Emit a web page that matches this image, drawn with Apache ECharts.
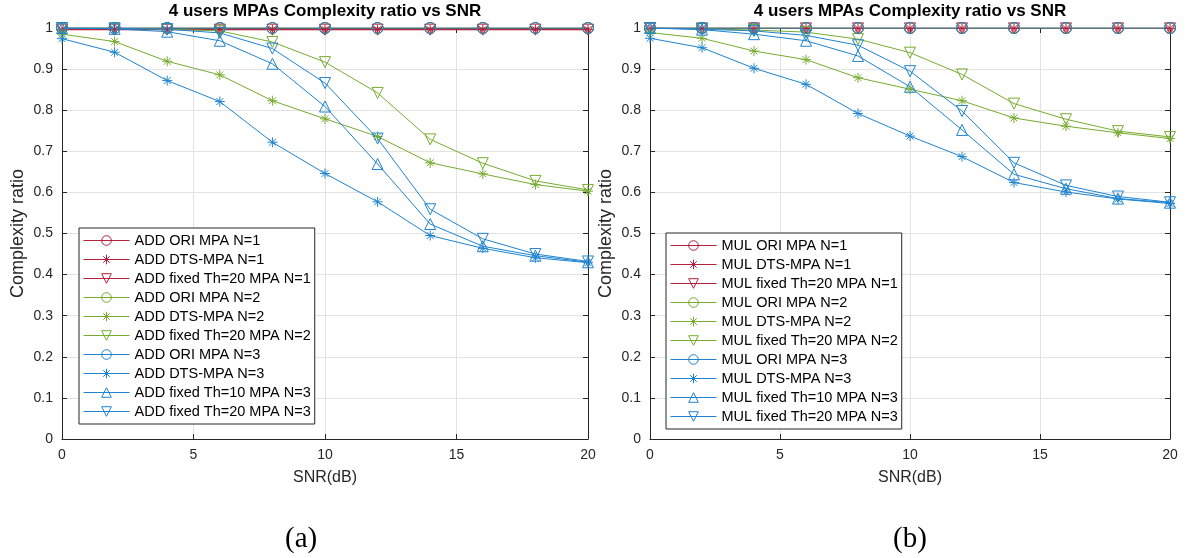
<!DOCTYPE html>
<html>
<head>
<meta charset="utf-8">
<script src="https://cdn.jsdelivr.net/npm/echarts@6/dist/echarts.min.js"></script>
<style>
  html, body { margin: 0; padding: 0; background: #fff; }
  #chart { width: 1189px; height: 558px; }
</style>
</head>
<body>
<div id="chart"></div>
<script>
// x axis (SNR, dB)
const snr = [0, 2, 4, 6, 8, 10, 12, 14, 16, 18, 20];

// (a) ADD
const addOriN1   = [1, 1, 1, 1, 1, 1, 1, 1, 1, 1, 1];
const addDtsN1   = [0.996, 0.996, 0.996, 0.996, 0.996, 0.996, 0.996, 0.996, 0.996, 0.996, 0.996];
const addFix20N1 = [0.996, 0.996, 0.996, 0.996, 0.996, 0.996, 0.996, 0.996, 0.996, 0.996, 0.996];
const addOriN2   = [1, 1, 1, 1, 1, 1, 1, 1, 1, 1, 1];
const addDtsN2   = [0.985, 0.967, 0.919, 0.886, 0.823, 0.779, 0.736, 0.672, 0.645, 0.619, 0.603];
const addFix20N2 = [1.0, 0.999, 0.997, 0.993, 0.966, 0.917, 0.842, 0.729, 0.671, 0.628, 0.606];
const addOriN3   = [1, 1, 1, 1, 1, 1, 1, 1, 1, 1, 1];
const addDtsN3   = [0.974, 0.941, 0.872, 0.821, 0.722, 0.646, 0.577, 0.495, 0.464, 0.441, 0.429];
const addFix10N3 = [1.0, 0.998, 0.991, 0.969, 0.913, 0.809, 0.669, 0.523, 0.469, 0.446, 0.430];
const addFix20N3 = [1.0, 0.999, 0.997, 0.988, 0.950, 0.866, 0.731, 0.559, 0.487, 0.450, 0.432];

// (b) MUL
const mulOriN1   = [1, 1, 1, 1, 1, 1, 1, 1, 1, 1, 1];
const mulDtsN1   = [0.999, 0.999, 0.999, 0.999, 0.999, 0.999, 0.999, 0.999, 0.999, 0.999, 0.999];
const mulFix20N1 = [0.999, 0.999, 0.999, 0.999, 0.999, 0.999, 0.999, 0.999, 0.999, 0.999, 0.999];
const mulOriN2   = [1, 1, 1, 1, 1, 1, 1, 1, 1, 1, 1];
const mulDtsN2   = [0.989, 0.975, 0.944, 0.923, 0.879, 0.851, 0.823, 0.781, 0.761, 0.745, 0.731];
const mulFix20N2 = [1.0, 0.998, 0.995, 0.990, 0.973, 0.940, 0.887, 0.816, 0.778, 0.749, 0.735];
const mulOriN3   = [1, 1, 1, 1, 1, 1, 1, 1, 1, 1, 1];
const mulDtsN3   = [0.975, 0.952, 0.902, 0.863, 0.792, 0.737, 0.687, 0.624, 0.601, 0.584, 0.573];
const mulFix10N3 = [1.0, 0.996, 0.985, 0.969, 0.932, 0.857, 0.752, 0.644, 0.609, 0.585, 0.575];
const mulFix20N3 = [1.0, 0.997, 0.993, 0.982, 0.958, 0.895, 0.798, 0.672, 0.617, 0.590, 0.576];

const titleText = '4 users MPAs Complexity ratio vs SNR';

const RED = '#b5203d';
const GREEN = '#77ac30';
const BLUE = '#1f84cf';
const FONT = 'Liberation Sans, Arial, sans-serif';
const INK = '#262626';

// marker shapes (drawn hollow)
const CIRCLE = 'circle';
const STAR = 'path://M5,0L5,10M0,5L10,5M1.6,1.6L8.4,8.4M8.4,1.6L1.6,8.4';
const TRI_UP = 'path://M5,0L10,8.7L0,8.7Z';
const TRI_DOWN = 'path://M0,0L10,0L5,8.7Z';

function line(name, data, color, marker, idx) {
  return {
    name: name,
    type: 'line',
    xAxisIndex: idx * 2,
    yAxisIndex: idx * 2,
    data: snr.map((x, i) => [x, data[i]]),
    symbol: marker,
    symbolSize: marker === STAR ? 10 : 11,
    lineStyle: { color: color, width: 1 },
    itemStyle: { color: 'rgba(0,0,0,0)', borderColor: color, borderWidth: 1 },
    emphasis: { disabled: true }
  };
}

function axes(idx) {
  const tick = { inside: true, length: 5, lineStyle: { color: INK } };
  const frame = { onZero: false, lineStyle: { color: INK } };
  const xs = [{
    type: 'value', gridIndex: idx, min: 0, max: 20, interval: 5,
    axisLine: frame, axisTick: tick,
    axisLabel: { color: INK, fontSize: 14, fontFamily: FONT, margin: 9 },
    splitLine: { show: true, lineStyle: { color: '#e3e3e3' } },
    name: 'SNR(dB)', nameLocation: 'middle', nameGap: 31,
    nameTextStyle: { color: INK, fontSize: 16, fontFamily: FONT }
  }, {
    type: 'value', gridIndex: idx, position: 'top', min: 0, max: 20, interval: 5,
    axisLine: frame, axisTick: tick,
    axisLabel: { show: false }, splitLine: { show: false }
  }];
  const ys = [{
    type: 'value', gridIndex: idx, min: 0, max: 1, interval: 0.1,
    axisLine: Object.assign({ show: true }, frame),
    axisTick: Object.assign({ show: true }, tick),
    axisLabel: { color: INK, fontSize: 14, fontFamily: FONT, margin: 9 },
    splitLine: { show: true, lineStyle: { color: '#e3e3e3' } },
    name: 'Complexity ratio', nameLocation: 'middle', nameGap: 35,
    nameTextStyle: { color: INK, fontSize: 18, fontFamily: FONT }
  }, {
    type: 'value', gridIndex: idx, position: 'right', min: 0, max: 1, interval: 0.1,
    axisLine: Object.assign({ show: true }, frame),
    axisTick: Object.assign({ show: true }, tick),
    axisLabel: { show: false }, splitLine: { show: false }
  }];
  return { xs, ys };
}

const a = axes(0), b = axes(1);

const seriesA = [
  line('ADD ORI MPA N=1', addOriN1, RED, CIRCLE, 0),
  line('ADD DTS-MPA N=1', addDtsN1, RED, STAR, 0),
  line('ADD fixed Th=20 MPA N=1', addFix20N1, RED, TRI_DOWN, 0),
  line('ADD ORI MPA N=2', addOriN2, GREEN, CIRCLE, 0),
  line('ADD DTS-MPA N=2', addDtsN2, GREEN, STAR, 0),
  line('ADD fixed Th=20 MPA N=2', addFix20N2, GREEN, TRI_DOWN, 0),
  line('ADD ORI MPA N=3', addOriN3, BLUE, CIRCLE, 0),
  line('ADD DTS-MPA N=3', addDtsN3, BLUE, STAR, 0),
  line('ADD fixed Th=10 MPA N=3', addFix10N3, BLUE, TRI_UP, 0),
  line('ADD fixed Th=20 MPA N=3', addFix20N3, BLUE, TRI_DOWN, 0)
];
const seriesB = [
  line('MUL ORI MPA N=1', mulOriN1, RED, CIRCLE, 1),
  line('MUL DTS-MPA N=1', mulDtsN1, RED, STAR, 1),
  line('MUL fixed Th=20 MPA N=1', mulFix20N1, RED, TRI_DOWN, 1),
  line('MUL ORI MPA N=2', mulOriN2, GREEN, CIRCLE, 1),
  line('MUL DTS-MPA N=2', mulDtsN2, GREEN, STAR, 1),
  line('MUL fixed Th=20 MPA N=2', mulFix20N2, GREEN, TRI_DOWN, 1),
  line('MUL ORI MPA N=3', mulOriN3, BLUE, CIRCLE, 1),
  line('MUL DTS-MPA N=3', mulDtsN3, BLUE, STAR, 1),
  line('MUL fixed Th=10 MPA N=3', mulFix10N3, BLUE, TRI_UP, 1),
  line('MUL fixed Th=20 MPA N=3', mulFix20N3, BLUE, TRI_DOWN, 1)
];

function legendFor(list, left, top) {
  return {
    data: list.map(s => s.name),
    orient: 'vertical', left: left, top: top,
    padding: [5, 4, 5, 4], itemGap: 4, itemWidth: 46, itemHeight: 12,
    borderColor: INK, borderWidth: 1, backgroundColor: '#fff',
    selectedMode: false,
    lineStyle: { width: 1 },
    itemStyle: { borderWidth: 1 },
    textStyle: { color: '#000', fontSize: 14.5, fontFamily: FONT }
  };
}

const chart = echarts.init(document.getElementById('chart'));
chart.setOption({
  animation: false,
  backgroundColor: '#fff',
  title: [
    { text: titleText, left: 325, top: 3, padding: 0, textAlign: 'center',
      textStyle: { fontSize: 17, fontWeight: 'bold', color: '#000', fontFamily: FONT } },
    { text: titleText, left: 910, top: 3, padding: 0, textAlign: 'center',
      textStyle: { fontSize: 17, fontWeight: 'bold', color: '#000', fontFamily: FONT } }
  ],
  grid: [
    { left: 62, top: 28, width: 526, height: 411 },
    { left: 650, top: 28, width: 520, height: 411 }
  ],
  xAxis: a.xs.concat(b.xs),
  yAxis: a.ys.concat(b.ys),
  legend: [legendFor(seriesA, 79, 228), legendFor(seriesB, 666, 233)],
  series: seriesA.concat(seriesB),
  graphic: [
    { type: 'text', left: 285, top: 525,
      style: { text: '(a)', fontSize: 29, fontFamily: 'Liberation Serif, Times New Roman, serif', fill: '#000' } },
    { type: 'text', left: 893, top: 525,
      style: { text: '(b)', fontSize: 29, fontFamily: 'Liberation Serif, Times New Roman, serif', fill: '#000' } }
  ]
});
window.onresize = function () { chart.resize(); };
</script>
</body>
</html>
